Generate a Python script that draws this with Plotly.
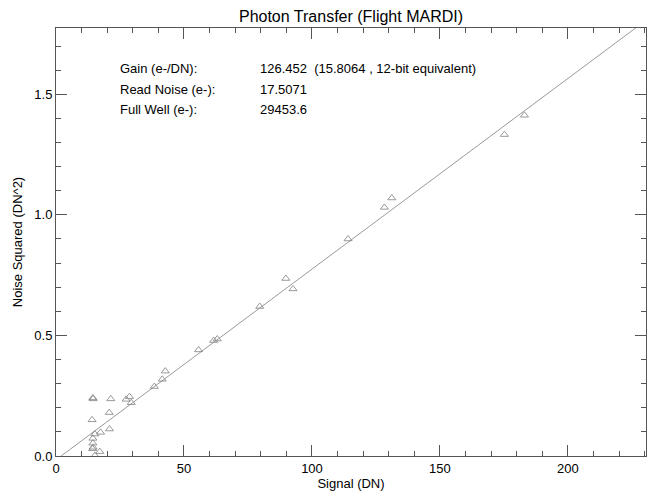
import plotly.graph_objects as go

# Measured points (Signal DN, Noise squared DN^2)
signal = [14.4, 14.5, 21.4, 27.4, 28.7, 29.4, 20.8, 14.1, 20.9, 17.4, 15.2, 14.4,
          14.4, 14.5, 14.3, 17.1, 15.2, 38.4, 41.5, 42.7,
          55.7, 61.6, 63.0, 79.6, 89.8, 92.6, 114.1,
          128.3, 131.2, 175.2, 183.0]
noise_sq = [0.241, 0.237, 0.237, 0.235, 0.246, 0.221, 0.180, 0.150, 0.112, 0.098, 0.091, 0.073,
            0.053, 0.036, 0.030, 0.018, 0.002, 0.288, 0.318, 0.352,
            0.440, 0.479, 0.485, 0.620, 0.736, 0.693, 0.900,
            1.031, 1.070, 1.333, 1.413]

# Fit line endpoints
fit_x = [2.0, 230.5]
fit_y = [0.0, 1.807]

labels = ["Gain (e-/DN):", "Read Noise (e-):", "Full Well (e-):"]
values = ["126.452  (15.8064 , 12-bit equivalent)", "17.5071", "29453.6"]

x_ticks = [0, 50, 100, 150, 200]
y_ticks = [0.0, 0.5, 1.0, 1.5]

font_family = "Liberation Sans, Arial, Helvetica, sans-serif"
axis_col = "#555555"

fig = go.Figure()
fig.add_trace(go.Scatter(x=fit_x, y=fit_y, mode="lines",
                         line=dict(color="#9a9a9a", width=1), hoverinfo="skip",
                         showlegend=False))
fig.add_trace(go.Scatter(x=signal, y=noise_sq, mode="markers",
                         marker=dict(symbol="triangle-up-open", size=7,
                                     color="#808080", line=dict(width=0.8)),
                         showlegend=False, cliponaxis=True))

ann = []
row_y = [68, 90, 110]
for lab, val, yy in zip(labels, values, row_y):
    ann.append(dict(text=lab, x=118, y=493 - yy, xref="paper", yref="paper",
                    showarrow=False, xanchor="left", yanchor="middle",
                    font=dict(size=13, color="black", family=font_family)))
    ann.append(dict(text=val, x=258, y=493 - yy, xref="paper", yref="paper",
                    showarrow=False, xanchor="left", yanchor="middle",
                    font=dict(size=13, color="black", family=font_family)))

# convert pixel annotation positions to paper coords
L, R, T, B = 56, 1, 28, 37
pw, ph = 647 - L - R, 493 - T - B
for a in ann:
    a["x"] = (a["x"] - L) / pw
    a["y"] = (a["y"] - B) / ph

fig.update_layout(
    width=647, height=493,
    margin=dict(l=L, r=R, t=T, b=B),
    paper_bgcolor="white", plot_bgcolor="white",
    font=dict(family=font_family, color="black", size=13),
    title=dict(text="Photon Transfer (Flight MARDI)", x=(L + (647 - R)) / 2 / 647,
               xanchor="center", y=1 - 16 / 493, yanchor="middle",
               font=dict(size=16, color="black", family=font_family)),
    annotations=ann,
    xaxis=dict(range=[0, 230.5], tickvals=x_ticks, ticks="inside", ticklen=11,
               tickcolor=axis_col, showline=True, linecolor=axis_col, linewidth=1,
               mirror="ticks", showgrid=False, zeroline=False,
               minor=dict(dtick=10, tick0=0, ticks="inside", ticklen=5, tickcolor=axis_col),
               title=dict(text="Signal (DN)", standoff=4, font=dict(size=13)),
               tickfont=dict(size=13)),
    yaxis=dict(range=[0, 1.775], tickvals=y_ticks, tickformat=".1f", ticks="inside",
               ticklen=11, tickcolor=axis_col, showline=True, linecolor=axis_col,
               linewidth=1, mirror="ticks", showgrid=False, zeroline=False,
               minor=dict(dtick=0.1, tick0=0, ticks="inside", ticklen=5, tickcolor=axis_col),
               title=dict(text="Noise Squared (DN^2)", standoff=8, font=dict(size=13)),
               tickfont=dict(size=13)),
)

fig.write_html("out.html")
